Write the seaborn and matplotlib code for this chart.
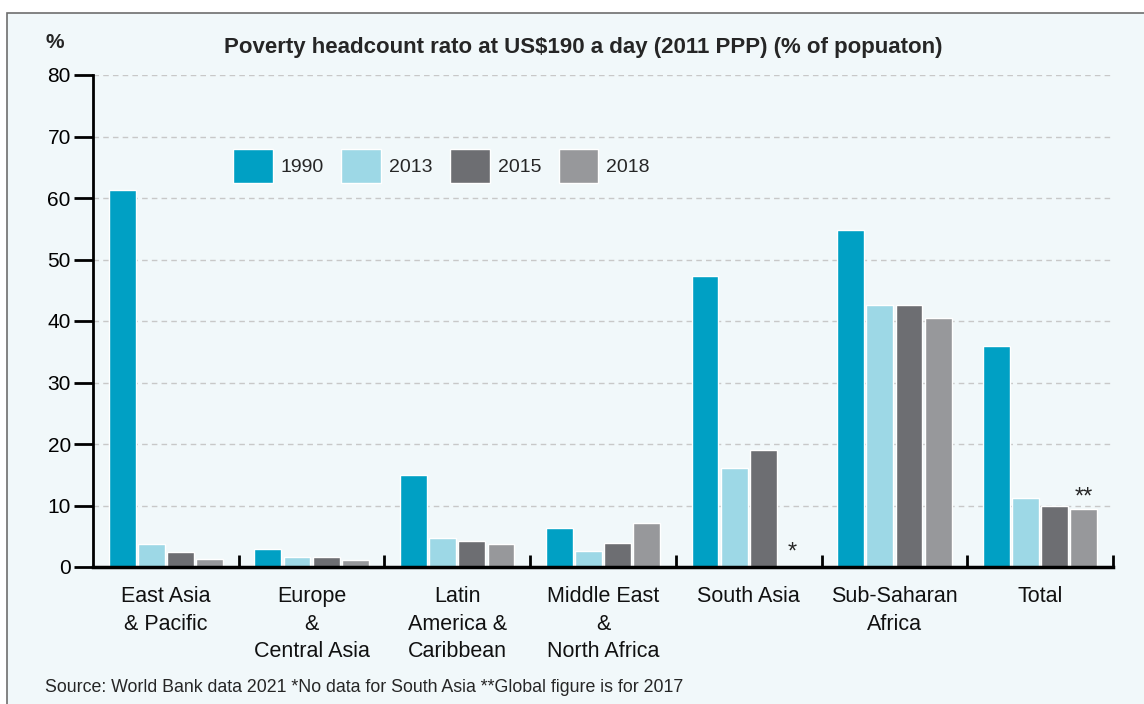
import numpy as np
import pandas as pd
import seaborn as sns
import matplotlib.pyplot as plt
from matplotlib.patches import Rectangle
from matplotlib.ticker import FixedLocator

regions = ["East Asia\n& Pacific", "Europe\n&\nCentral Asia", "Latin\nAmerica &\nCaribbean",
           "Middle East\n&\nNorth Africa", "South Asia", "Sub-Saharan\nAfrica", "Total"]
years = ["1990", "2013", "2015", "2018"]
v1990 = [61.3, 2.9, 14.9, 6.3, 47.3, 54.8, 35.9]
v2013 = [3.7, 1.6, 4.7, 2.6, 16.1, 42.6, 11.2]
v2015 = [2.4, 1.6, 4.2, 3.9, 19.0, 42.6, 9.9]
v2018 = [1.3, 1.1, 3.7, 7.2, np.nan, 40.5, 9.4]
colors = ["#00a0c4", "#9dd8e6", "#6d6e72", "#97989b"]

rows = []
for yr, vals in zip(years, [v1990, v2013, v2015, v2018]):
    for reg, v in zip(regions, vals):
        rows.append({"region": reg, "year": yr, "value": v})
df = pd.DataFrame(rows)

sns.set_style("white")
plt.rcParams['font.family'] = ['Liberation Sans', 'DejaVu Sans']

bg = "#f1f8fa"
fig = plt.figure(figsize=(11.44, 7.04), dpi=100, facecolor="white")
fig.patches.append(Rectangle((7 / 1144, -0.01), 1.0, 1 - 13 / 704 + 0.01, transform=fig.transFigure,
                             facecolor=bg, edgecolor="#6e6e6e", linewidth=1.2, zorder=-5))
ax = fig.add_axes([93 / 1144, 1 - 567 / 704, 1020 / 1144, 492 / 704])
ax.set_facecolor(bg)

sns.barplot(data=df, x="region", y="value", hue="year", palette=colors,
            width=0.8, gap=0.08, ax=ax, saturation=1)

ax.set_ylim(0, 80)
ax.set_xlim(-0.5, 6.5)
ax.set_yticks(range(0, 81, 10))
ax.yaxis.grid(True, linestyle=(0, (4, 3)), color="#c8c8c8", linewidth=1)
ax.set_axisbelow(True)
ax.set_xlabel("")
ax.set_ylabel("")

for s in ["top", "right"]:
    ax.spines[s].set_visible(False)
ax.spines["left"].set_linewidth(2)
ax.spines["bottom"].set_linewidth(2.5)
ax.spines["left"].set_color("black")
ax.spines["bottom"].set_color("black")

ax.tick_params(axis="y", left=True, direction="out", length=14, width=2, labelsize=15, pad=2, colors="black")
ax.tick_params(axis="x", which="major", bottom=False, length=0, labelsize=15.5, pad=14)
ax.xaxis.set_minor_locator(FixedLocator([0.5, 1.5, 2.5, 3.5, 4.5, 5.5, 6.5]))
ax.tick_params(axis="x", which="minor", bottom=True, direction="in", length=9, width=2, color="black")
for lab in ax.get_xticklabels():
    lab.set_linespacing(1.4)
    lab.set_color("#111111")

# footnote markers
tot = [p for p in ax.containers[3]][-1]
off = tot.get_x() + tot.get_width() / 2 - 6
ax.text(6 + off, tot.get_height() + 0.1, "**", ha="center", va="bottom", fontsize=17)
ax.text(4 + off, 0.6, "*", ha="center", va="bottom", fontsize=17)

handles, labels = ax.get_legend_handles_labels()
ax.legend(handles, labels, ncol=4, loc="upper left", bbox_to_anchor=(0.12, 0.885),
          frameon=False, fontsize=14, handlelength=2.05, handleheight=2.32,
          handletextpad=0.4, columnspacing=0.9)

fig.text(583 / 1144, 1 - 47 / 704, "Poverty headcount rato at US$190 a day (2011 PPP) (% of popuaton)",
         ha="center", va="center", fontsize=16, fontweight="bold")
fig.text(45 / 1144, 1 - 43 / 704, "%", ha="left", va="center", fontsize=15, fontweight="bold")
fig.text(45 / 1144, 1 - 688 / 704,
         "Source: World Bank data 2021 *No data for South Asia **Global figure is for 2017",
         ha="left", va="center", fontsize=12.8)

fig.savefig("out.png", dpi=100, facecolor="white")
